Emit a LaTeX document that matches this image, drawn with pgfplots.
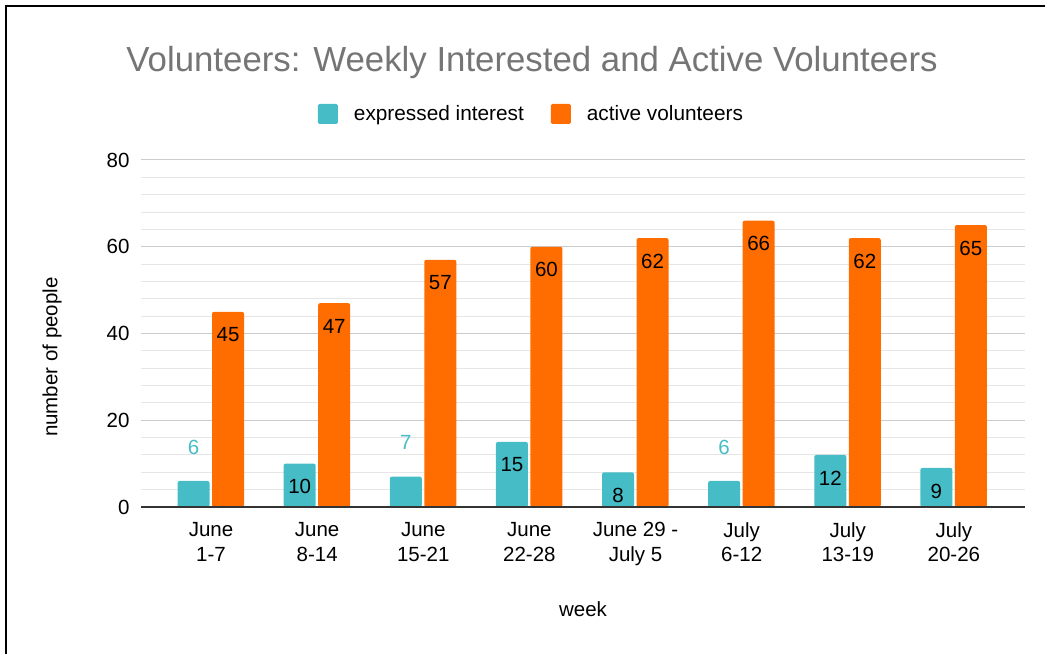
\documentclass[border=0pt]{standalone}
\usepackage{fontspec}
\setmainfont{Liberation Sans}
\usepackage{pgfplots}
\pgfplotsset{compat=1.18}
\usepackage{pgfplotstable}
\definecolor{tealc}{HTML}{46BDC6}
\definecolor{orangec}{HTML}{FF6D01}
\definecolor{titlegray}{HTML}{757575}
\definecolor{majgrid}{HTML}{CCCCCC}
\definecolor{mingrid}{HTML}{E6E6E6}
\definecolor{axisdark}{HTML}{333333}

\pgfplotstableread{
x interest active
0 6 45
1 10 47
2 7 57
3 15 60
4 8 62
5 6 66
6 12 62
7 9 65
}\datatable

\pgfplotstableread{
x interest
0 6
2 7
5 6
}\lowtable

\pgfplotstableread{
x interest
1 10
3 15
4 8
6 12
7 9
}\hightable

\newcommand{\lblfont}{\fontsize{20.5}{24}\selectfont}

\begin{document}
\begin{tikzpicture}[x=1pt,y=1pt]
\useasboundingbox (0,0) rectangle (1045,654);
\draw[line width=2pt, black] (6,0) -- (6,648) -- (1045,648);
\node[anchor=base, text=titlegray, font=\fontsize{34.8}{40}\selectfont] at (532,582) {Volunteers: Weekly Interested and Active Volunteers};

\begin{axis}[
  at={(141pt,147pt)}, anchor=south west,
  scale only axis, width=884pt, height=347pt,
  xmin=-0.66, xmax=7.67, ymin=0, ymax=80,
  ybar, bar width=32pt,
  axis line style={draw=none},
  major tick length=0pt, minor tick length=0pt,
  xtick=data,
  xticklabels={June\\1-7, June\\8-14, June\\15-21, June\\22-28, June 29 -\\July 5, July\\6-12, July\\13-19, July\\20-26},
  xticklabel style={align=center, font=\fontsize{20.5}{24.5}\selectfont, yshift=-12pt},
  ytick={0,20,40,60,80},
  minor y tick num=4,
  ymajorgrids, yminorgrids,
  major grid style={majgrid, line width=1pt},
  minor grid style={mingrid, line width=1pt},
  yticklabel style={font=\lblfont, xshift=-8pt},
  /pgf/number format/assume math mode=true,
  xlabel={week}, ylabel={number of people},
  every axis x label/.style={at={(rel axis cs:0.5,0)}, anchor=center, yshift=-102pt, font=\lblfont},
  every axis y label/.style={at={(axis description cs:-0.1007,0.432)}, anchor=center, rotate=90, font=\lblfont},
  legend columns=2,
  legend style={at={(0.4417,1)}, anchor=center, yshift=46pt, draw=none, font=\fontsize{20.8}{24}\selectfont,
    /tikz/every odd column/.append style={column sep=14pt},
    /tikz/every even column/.append style={column sep=25pt}},
  legend image code/.code={\fill[#1, rounded corners=1.5pt] (0pt,-10pt) rectangle (20pt,10pt);},
]
\addplot[fill=tealc, draw=none, bar shift=-17.5pt, rounded corners=2pt] table[x=x,y=interest]{\datatable};
\addlegendentry{expressed interest}
\addplot[fill=orangec, draw=none, bar shift=17pt, rounded corners=2pt,
  nodes near coords, every node near coord/.append style={anchor=center, yshift=-23pt, font=\lblfont, text=black}] table[x=x,y=active]{\datatable};
\addlegendentry{active volunteers}
\addplot[draw=none, fill=none, forget plot, bar shift=-17.5pt,
  nodes near coords, every node near coord/.append style={anchor=center, yshift=-23pt, font=\lblfont, text=black}] table[x=x,y=interest]{\hightable};
\addplot[draw=none, fill=none, forget plot, bar shift=-17.5pt,
  nodes near coords, every node near coord/.append style={anchor=center, yshift=34pt, font=\lblfont, text=tealc}] table[x=x,y=interest]{\lowtable};
\draw[axisdark, line width=1.6pt] (rel axis cs:0,0) -- (rel axis cs:1,0);
\end{axis}
\end{tikzpicture}
\end{document}
